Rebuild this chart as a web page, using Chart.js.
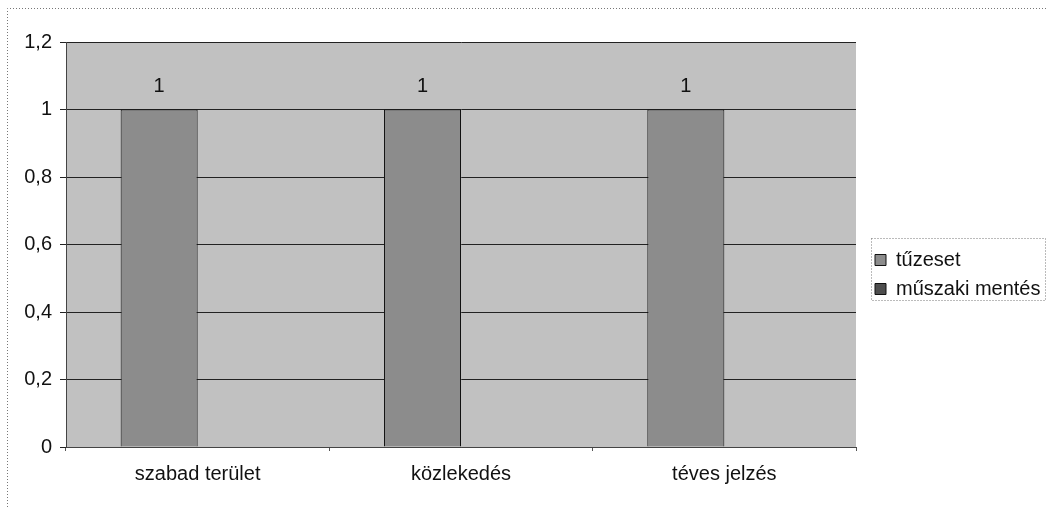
<!DOCTYPE html>
<html>
<head>
<meta charset="utf-8">
<script src="https://cdn.jsdelivr.net/npm/chart.js@4/dist/chart.umd.min.js"></script>
<style>
  html, body { margin: 0; padding: 0; background: #fff; }
  #wrap { width: 1048px; height: 507px; }
</style>
</head>
<body>
<div id="wrap"><canvas id="chart" width="1048" height="507"></canvas></div>
<script>
const categories = ['szabad terület', 'közlekedés', 'téves jelzés'];
const tuzeset = [1, 1, 1];
const muszakiMentes = [null, null, null];
const yTickLabels = ['0', '0,2', '0,4', '0,6', '0,8', '1', '1,2'];

// plot background, outer dotted frame, legend frame, value labels
const excelLook = {
  id: 'excelLook',
  beforeDraw(chart) {
    const c = chart.ctx, a = chart.chartArea;
    c.save();
    c.fillStyle = '#c1c1c1';
    c.fillRect(a.left, a.top, a.right - a.left, a.bottom - a.top);
    c.strokeStyle = '#777';
    c.lineWidth = 1;
    c.setLineDash([1, 2]);
    c.beginPath();
    c.moveTo(7.5, 507);
    c.lineTo(7.5, 8.5);
    c.lineTo(1048, 8.5);
    c.stroke();
    c.restore();
  },
  afterLayout(chart) {
    // nudge the legend a little to the right of the plot, like the original
    const lg = chart.legend;
    if (!lg) return;
    lg.left += 10;
    lg.right += 10;
    (lg.legendHitBoxes || []).forEach(h => { h.left += 10; });
  },
  afterDraw(chart) {
    const c = chart.ctx;
    c.save();
    c.strokeStyle = '#777';
    c.setLineDash([1, 2]);
    c.strokeRect(871.5, 238.5, 174, 62);
    c.restore();
  },
  afterDatasetsDraw(chart) {
    const c = chart.ctx;
    c.save();
    c.fillStyle = '#111';
    c.font = '20px "Liberation Sans", Arial, sans-serif';
    c.textAlign = 'center';
    c.textBaseline = 'bottom';
    chart.getDatasetMeta(0).data.forEach((bar, i) => {
      const v = tuzeset[i];
      if (v == null) return;
      c.fillText(String(v).replace('.', ','), bar.x, bar.y - 13);
    });
    c.restore();
  }
};

// fixed legend width so the plot ends where the original one does
const legendWidth = {
  id: 'legendWidth',
  beforeInit(chart) {
    const lg = chart.legend;
    if (!lg) return;
    const fit = lg.fit.bind(lg);
    lg.fit = function () { fit(); this.width = 192; };
  }
};

const font = { family: '"Liberation Sans", Arial, sans-serif', size: 20 };

new Chart(document.getElementById('chart'), {
  type: 'bar',
  data: {
    labels: categories,
    datasets: [
      { label: 'tűzeset', data: tuzeset, backgroundColor: '#8c8c8c', borderColor: '#111', borderWidth: 1 },
      { label: 'műszaki mentés', data: muszakiMentes, backgroundColor: '#4e4e4e', borderColor: '#111', borderWidth: 1 }
    ]
  },
  options: {
    responsive: false,
    animation: false,
    layout: { padding: { left: 8, top: 42, right: 0, bottom: 0 } },
    datasets: { bar: { categoryPercentage: 0.585, barPercentage: 1 } },
    scales: {
      x: {
        grid: { drawOnChartArea: false, offset: true, color: '#555', tickLength: 4 },
        border: { color: '#444' },
        ticks: { color: '#111', font: font, padding: 11 },
        afterFit(s) { s.height = 60; }
      },
      y: {
        min: 0, max: 1.2,
        grid: { color: '#222', tickLength: 6 },
        border: { color: '#444' },
        ticks: {
          stepSize: 0.2, color: '#111', font: font, padding: 8,
          callback: (v, i) => yTickLabels[i]
        },
        afterFit(s) { s.width = 58; }
      }
    },
    plugins: {
      legend: {
        position: 'right',
        labels: {
          color: '#111', font: font, boxWidth: 11, boxHeight: 11, padding: 9
        }
      },
      tooltip: { enabled: false }
    }
  },
  plugins: [legendWidth, excelLook]
});
</script>
</body>
</html>
